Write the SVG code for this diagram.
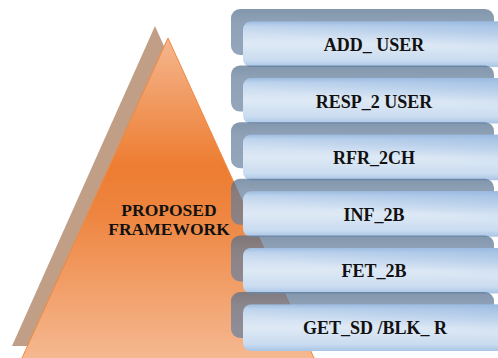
<svg xmlns="http://www.w3.org/2000/svg" width="498" height="358" viewBox="0 0 498 358">
  <defs>
    <linearGradient id="org" gradientUnits="userSpaceOnUse" x1="0" y1="38" x2="0" y2="358">
      <stop offset="0" stop-color="#F5B68F"/>
      <stop offset="0.4" stop-color="#ED7D31"/>
      <stop offset="0.55" stop-color="#EE8540"/>
      <stop offset="1" stop-color="#F5B890"/>
    </linearGradient>
    <linearGradient id="frontV" x1="0" y1="0" x2="0" y2="1">
      <stop offset="0" stop-color="#9DBCE1"/>
      <stop offset="0.1" stop-color="#C6D9EF"/>
      <stop offset="0.5" stop-color="#DEE9F5"/>
      <stop offset="0.85" stop-color="#CADCF0"/>
      <stop offset="1" stop-color="#A9C5E6"/>
    </linearGradient>
    <linearGradient id="frontH" x1="0.55" y1="1" x2="0.95" y2="0">
      <stop offset="0" stop-color="#A6C3E5" stop-opacity="0"/>
      <stop offset="0.45" stop-color="#A6C3E5" stop-opacity="0"/>
      <stop offset="1" stop-color="#9BBBE2" stop-opacity="0.85"/>
    </linearGradient>
    <linearGradient id="backG" x1="0" y1="0" x2="0" y2="1">
      <stop offset="0" stop-color="#4E6A89"/>
      <stop offset="0.3" stop-color="#5F7A98"/>
      <stop offset="1" stop-color="#6580A0"/>
    </linearGradient>
  </defs>
  <style>
    .back { fill: url(#backG); fill-opacity: 0.7; }
    .front { fill: url(#frontV); }
    .fronth { fill: url(#frontH); }
    .lbl { font-family: "Liberation Serif", "Times New Roman", serif; font-weight: bold; font-size: 18px; fill: #111; text-anchor: middle; }
    .pl { font-size: 17.5px; }
  </style>

  <g id="pyramid">
    <polygon points="155,26 298,346 12,346" fill="#C19F87"/>
    <polygon points="168,38 319.5,370 16.5,370" fill="url(#org)" stroke="#F0883F" stroke-width="1"/>
    <text class="lbl pl" x="169" y="215.5">PROPOSED</text>
    <text class="lbl pl" x="169" y="235">FRAMEWORK</text>
  </g>

  <g id="row1">
    <rect class="back" x="231" y="9" width="263" height="46" rx="9"/>
    <rect class="front" x="243" y="21.5" width="262" height="45.5" rx="8"/>
    <rect class="fronth" x="243" y="21.5" width="262" height="45.5" rx="8"/>
    <text class="lbl" x="374" y="51">ADD_ USER</text>
  </g>
  <g id="row2">
    <rect class="back" x="231" y="65.6" width="263" height="46" rx="9"/>
    <rect class="front" x="243" y="78.1" width="262" height="45.5" rx="8"/>
    <rect class="fronth" x="243" y="78.1" width="262" height="45.5" rx="8"/>
    <text class="lbl" x="374" y="107.6">RESP_2 USER</text>
  </g>
  <g id="row3">
    <rect class="back" x="231" y="122.2" width="263" height="46" rx="9"/>
    <rect class="front" x="243" y="134.7" width="262" height="45.5" rx="8"/>
    <rect class="fronth" x="243" y="134.7" width="262" height="45.5" rx="8"/>
    <text class="lbl" x="374" y="164.2">RFR_2CH</text>
  </g>
  <g id="row4">
    <rect class="back" x="231" y="178.8" width="263" height="46" rx="9"/>
    <rect class="front" x="243" y="191.3" width="262" height="45.5" rx="8"/>
    <rect class="fronth" x="243" y="191.3" width="262" height="45.5" rx="8"/>
    <text class="lbl" x="374" y="220.8">INF_2B</text>
  </g>
  <g id="row5">
    <rect class="back" x="231" y="235.4" width="263" height="46" rx="9"/>
    <rect class="front" x="243" y="247.9" width="262" height="45.5" rx="8"/>
    <rect class="fronth" x="243" y="247.9" width="262" height="45.5" rx="8"/>
    <text class="lbl" x="374" y="277.4">FET_2B</text>
  </g>
  <g id="row6">
    <rect class="back" x="231" y="292" width="263" height="46" rx="9"/>
    <rect class="front" x="243" y="304.5" width="262" height="46.5" rx="8"/>
    <rect class="fronth" x="243" y="304.5" width="262" height="46.5" rx="8"/>
    <text class="lbl" x="375" y="334">GET_SD /BLK_ R</text>
  </g>
  <g id="connectors"/>
</svg>
